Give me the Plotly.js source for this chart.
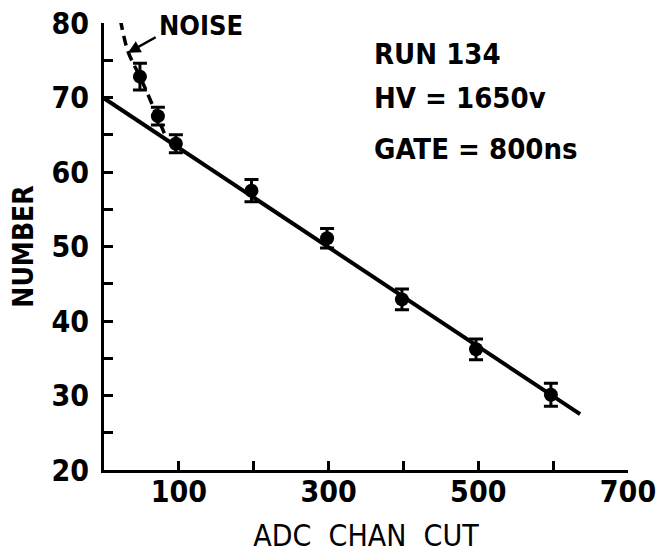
<!DOCTYPE html>
<html>
<head>
<meta charset="utf-8">
<script src="https://cdn.plot.ly/plotly-3.0.1.min.js"></script>
<style>html,body{margin:0;padding:0;background:#fff;}#chart{width:658px;height:553px;}</style>
</head>
<body>
<div id="chart"></div>
<script>
// Data
const adcCut = [48, 72, 96, 197, 298, 398, 497, 597];
const number = [72.8, 67.5, 63.8, 57.5, 51.1, 42.9, 36.2, 30.1];
const numberErr = [1.8, 1.2, 1.2, 1.5, 1.3, 1.4, 1.4, 1.55];
const fitX = [0, 636];
const fitY = [69.9, 27.5];
const noiseX = [22, 32, 48, 60, 71, 81];
const noiseY = [80.4, 76.2, 72.8, 70.1, 67.5, 65.1];
const xTickVals = [100, 200, 300, 400, 500, 600, 700];
const xTickText = ['100', '', '300', '', '500', '', '700'];
const yTickVals = [20, 30, 40, 50, 60, 70, 80];
const yTickText = ['20', '30', '40', '50', '60', '70', '80'];
const infoLines = ['RUN 134', 'HV = 1650v', 'GATE = 800ns'];
const infoY = [75.8, 69.9, 63.1];

const FONT = 'DejaVu Sans Condensed, DejaVu Sans, sans-serif';

const traces = [
  {x: fitX, y: fitY, mode: 'lines', line: {color: '#000', width: 4}, hoverinfo: 'skip'},
  {x: noiseX, y: noiseY, mode: 'lines', line: {color: '#000', width: 3.5, dash: '10px,6px', shape: 'spline'}, hoverinfo: 'skip'},
  {x: adcCut, y: number, mode: 'markers',
   marker: {color: '#000', size: 14},
   error_y: {type: 'data', array: numberErr, visible: true, color: '#000', thickness: 3, width: 7}}
];

const annotations = infoLines.map((t, i) => ({
  x: 358, y: infoY[i], xref: 'x', yref: 'y', text: t, showarrow: false,
  xanchor: 'left', yanchor: 'middle',
  font: {family: FONT, size: 29, color: '#000', weight: 'bold'}
}));
annotations.push({
  x: 130, y: 79.6, xref: 'x', yref: 'y', text: 'NOISE', showarrow: false,
  xanchor: 'center', yanchor: 'middle',
  font: {family: FONT, size: 27, color: '#000', weight: 'bold'}
});
annotations.push({
  x: 32, y: 76.0, xref: 'x', yref: 'y', ax: 71, ay: 78.2, axref: 'x', ayref: 'y',
  text: '', showarrow: true, arrowhead: 2, arrowsize: 1, arrowwidth: 2.5, arrowcolor: '#000'
});

const layout = {
  width: 658, height: 553,
  margin: {l: 104, r: 30, t: 23, b: 83},
  paper_bgcolor: '#fff', plot_bgcolor: '#fff',
  showlegend: false,
  font: {family: FONT, color: '#000'},
  xaxis: {
    range: [0, 700], showgrid: false, zeroline: false,
    showline: true, linecolor: '#000', linewidth: 3,
    ticks: 'inside', ticklen: 9, tickwidth: 3, tickcolor: '#000',
    tickmode: 'array', tickvals: xTickVals, ticktext: xTickText,
    ticklabelstandoff: -7,
    tickfont: {family: FONT, size: 30, color: '#000', weight: 'bold'},
    title: {text: 'ADC  CHAN  CUT', standoff: 22,
            font: {family: 'DejaVu Sans Condensed, sans-serif', size: 30, color: '#000'}}
  },
  yaxis: {
    range: [20, 80], showgrid: false, zeroline: false,
    showline: true, linecolor: '#000', linewidth: 3,
    ticks: 'inside', ticklen: 9, tickwidth: 3, tickcolor: '#000',
    tickmode: 'array', tickvals: yTickVals, ticktext: yTickText,
    ticklabelstandoff: 6,
    minor: {dtick: 5, ticks: 'inside', ticklen: 9, tickwidth: 3, tickcolor: '#000', showgrid: false},
    tickfont: {family: FONT, size: 30, color: '#000', weight: 'bold'},
    title: {text: 'NUMBER', standoff: 10,
            font: {family: FONT, size: 28, color: '#000', weight: 'bold'}}
  },
  annotations: annotations
};

Plotly.newPlot('chart', traces, layout, {displayModeBar: false, staticPlot: true});
</script>
</body>
</html>
